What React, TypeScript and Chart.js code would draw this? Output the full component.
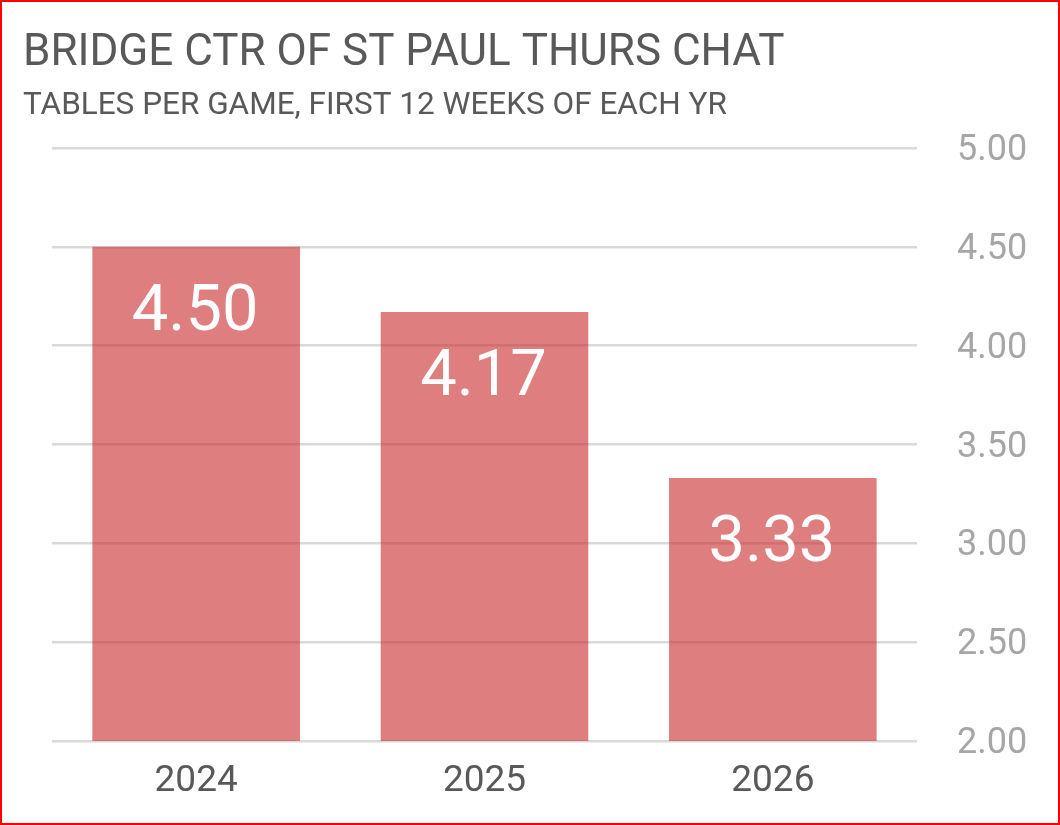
import { useEffect, useRef } from 'react';
import { Chart, ChartConfiguration, Plugin, registerables } from 'chart.js';

Chart.register(...registerables);

const years = ['2024', '2025', '2026'];
const tablesPerGame = [4.5, 4.17, 3.33];
const yMin = 2;
const yMax = 5;
const yStep = 0.5;

const titleText = 'BRIDGE CTR OF ST PAUL THURS CHAT';
const subtitleText = 'TABLES PER GAME, FIRST 12 WEEKS OF EACH YR';

const fontFamily = 'Roboto, "Liberation Sans", sans-serif';

// title + subtitle drawn top-left, outside chart area
const headerPlugin: Plugin<'bar'> = {
  id: 'header',
  afterDraw(chart) {
    const ctx = chart.ctx;
    ctx.save();
    ctx.fillStyle = '#595959';
    ctx.textAlign = 'left';
    ctx.textBaseline = 'alphabetic';
    ctx.font = `44px ${fontFamily}`;
    ctx.fillText(titleText, 21, 63);
    ctx.font = `31.5px ${fontFamily}`;
    ctx.fillText(subtitleText, 21, 112);
    ctx.restore();
  },
};

// value labels inside the top of each bar
const valueLabels: Plugin<'bar'> = {
  id: 'valueLabels',
  afterDatasetsDraw(chart) {
    const ctx = chart.ctx;
    const meta = chart.getDatasetMeta(0);
    ctx.save();
    ctx.fillStyle = '#ffffff';
    ctx.font = `65px ${fontFamily}`;
    ctx.textAlign = 'center';
    ctx.textBaseline = 'alphabetic';
    meta.data.forEach((bar, i) => {
      const v = chart.data.datasets[0].data[i] as number;
      ctx.fillText(v.toFixed(2), bar.x - 1, bar.y + 83);
    });
    ctx.restore();
  },
};

export default function App() {
  const canvasRef = useRef<HTMLCanvasElement>(null);
  const chartInstance = useRef<Chart | null>(null);

  useEffect(() => {
    document.body.style.margin = '0';
    if (!canvasRef.current) return;
    if (chartInstance.current) chartInstance.current.destroy();

    const config: ChartConfiguration<'bar'> = {
      type: 'bar',
      data: {
        labels: years,
        datasets: [
          {
            data: tablesPerGame,
            backgroundColor: 'rgba(200, 40, 40, 0.6)',
            borderWidth: 0,
            categoryPercentage: 1,
            barPercentage: 0.72,
          },
        ],
      },
      options: {
        responsive: false,
        animation: false,
        layout: { padding: { top: 146, left: 50, right: 0, bottom: 0 } },
        plugins: {
          legend: { display: false },
          tooltip: { enabled: false },
        },
        scales: {
          x: {
            grid: { display: false },
            border: { display: false },
            ticks: {
              color: '#595959',
              font: { family: fontFamily, size: 37 },
              padding: 11,
            },
            afterFit(scale) {
              scale.height = 82;
            },
          },
          y: {
            position: 'right',
            min: yMin,
            max: yMax,
            border: { display: false },
            grid: { color: '#D9D9D9', lineWidth: 2.5, drawTicks: false },
            ticks: {
              stepSize: yStep,
              color: '#A6A6A6',
              font: { family: fontFamily, size: 36 },
              padding: 40,
              labelOffset: 3,
              callback: (v) => Number(v).toFixed(2),
            },
            afterFit(scale) {
              scale.width = 141;
            },
          },
        },
      },
      plugins: [headerPlugin, valueLabels],
    };

    chartInstance.current = new Chart(canvasRef.current, config);

    return () => {
      if (chartInstance.current) {
        chartInstance.current.destroy();
        chartInstance.current = null;
      }
    };
  }, []);

  return (
    <div
      style={{
        width: 1060,
        height: 825,
        boxSizing: 'border-box',
        border: '2px solid #FF0000',
        background: '#ffffff',
      }}
    >
      <canvas ref={canvasRef} width={1056} height={821} style={{ display: 'block' }} />
    </div>
  );
}
